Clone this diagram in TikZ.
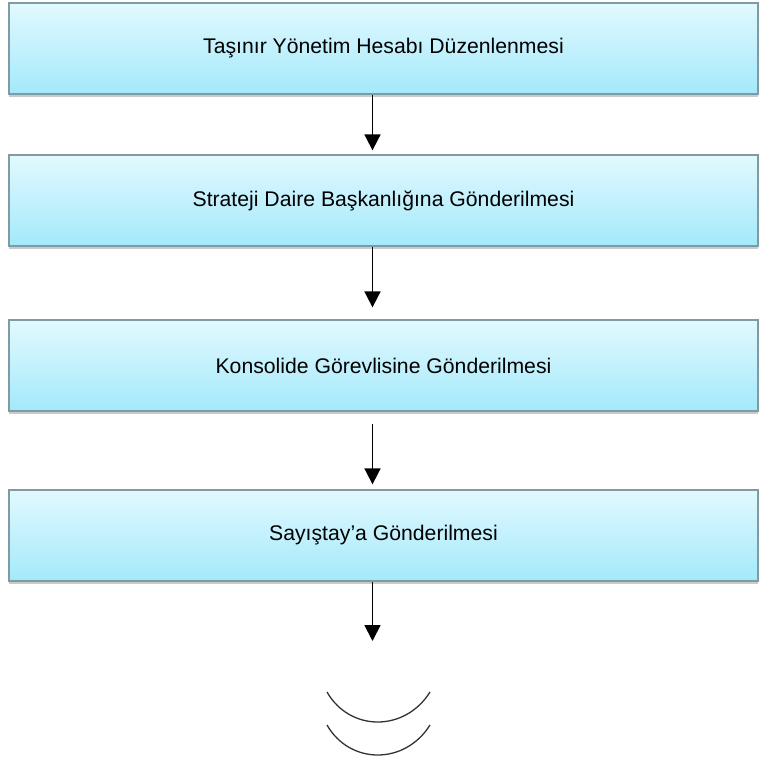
\documentclass[tikz,border=0pt]{standalone}
\usepackage{fontspec}
\setmainfont{Liberation Sans}
\usetikzlibrary{positioning}
\usetikzlibrary{shadows}
\usetikzlibrary{arrows.meta}

\definecolor{boxtop}{HTML}{E2F9FE}
\definecolor{boxbot}{HTML}{A3E9FB}
\definecolor{boxline}{HTML}{7F9BA3}

\tikzset{
  stage/.style={draw=boxline,line width=1.3pt,top color=boxtop,bottom color=boxbot,
    minimum width=749pt,minimum height=91pt,inner sep=0pt,
    font=\fontsize{21.2}{25}\selectfont,
    drop shadow={shadow xshift=0pt,shadow yshift=-3pt,opacity=0.35,fill=black!60}},
  arr/.style={line width=1.8pt,-{Triangle[width=16pt,length=16pt]}}
}

\begin{document}
\begin{tikzpicture}[x=1pt,y=1pt]
      \useasboundingbox (0,0) rectangle (760,-760);
      \node[stage] (s1) at (383.5,-48.5) {Taşınır Yönetim Hesabı Düzenlenmesi};
      \node[stage] (s2) at (383.5,-200.5) {Strateji Daire Başkanlığına Gönderilmesi};
      \node[stage] (s3) at (383.5,-365.5) {Konsolide Görevlisine Gönderilmesi};
      \node[stage] (s4) at (383.5,-535.5) {Sayıştay’a Gönderilmesi};
      \coordinate (end) at (372.5,-641);
      \draw[arr] ([xshift=-11pt]s1.south) -- ([xshift=-11pt,yshift=4pt]s2.north);
      \draw[arr] ([xshift=-11pt]s2.south) -- ([xshift=-11pt,yshift=12pt]s3.north);
      \draw[arr] ([xshift=-11pt,yshift=-12pt]s3.south) -- ([xshift=-11pt,yshift=5pt]s4.north);
      \draw[arr] ([xshift=-11pt]s4.south) -- (end);
      % closing mark
      \foreach \dy in {0,33} {
	\draw[black!80,line width=1.3pt] (327,-692-\dy) .. controls (350,-732-\dy) and (405,-732-\dy) .. (430,-692-\dy);
      }
    \end{tikzpicture}
\end{document}
